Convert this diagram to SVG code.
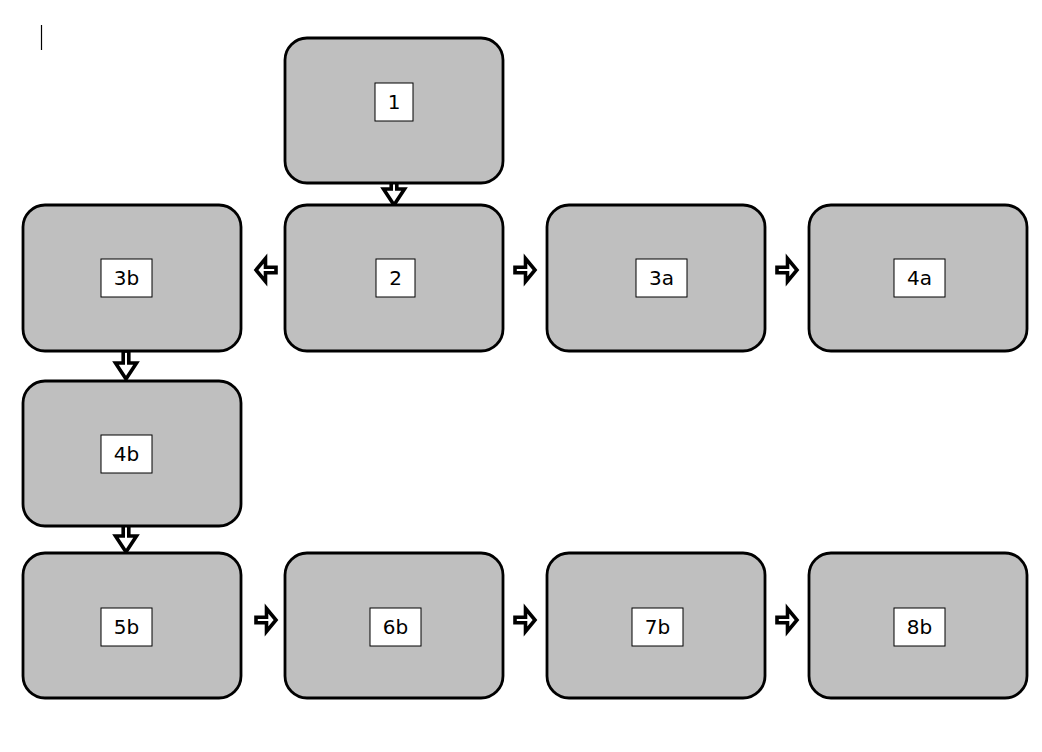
<svg xmlns="http://www.w3.org/2000/svg" width="1042" height="752" viewBox="0 0 1042 752">
<style>
.n{fill:#bfbfbf;stroke:#000;stroke-width:2.8}
.l{fill:#fff;stroke:#000;stroke-width:1}
.t{font-family:"DejaVu Sans","Liberation Sans",sans-serif;font-size:20px;fill:#000;text-anchor:middle;dominant-baseline:central}
.a{fill:#fff;stroke:#000;stroke-width:3.6;stroke-linejoin:miter;stroke-miterlimit:10}
</style>
<defs>
<path id="ar" class="a" d="M-10,-2.8 H0.5 V-11.5 L10,0 L0.5,11.5 V2.8 H-10 Z"/>
<path id="ad" class="a" d="M-2.8,-14 H2.8 V-2 H10.5 L0,14 L-10.5,-2 H-2.8 Z"/>
</defs>
<rect width="1042" height="752" fill="#fff"/>
<line x1="41.5" y1="25" x2="41.5" y2="50" stroke="#000" stroke-width="1.2"/>
<g id="connectors">
<use href="#ad" transform="translate(394,191)"/>
<use href="#ar" transform="translate(266,270) scale(-1,1)"/>
<use href="#ar" transform="translate(525,270)"/>
<use href="#ar" transform="translate(787,270)"/>
<use href="#ad" transform="translate(126,365)"/>
<use href="#ad" transform="translate(126,538)"/>
<use href="#ar" transform="translate(266,620)"/>
<use href="#ar" transform="translate(525,620)"/>
<use href="#ar" transform="translate(787,620)"/>
</g>
<g id="n1"><rect class="n" x="285" y="38" width="218" height="145" rx="22"/><rect class="l" x="375" y="83" width="38" height="38"/><text class="t" x="394" y="102">1</text></g>
<g id="n2"><rect class="n" x="285" y="205" width="218" height="146" rx="22"/><rect class="l" x="376" y="259" width="39" height="38"/><text class="t" x="395.5" y="278">2</text></g>
<g id="n3b"><rect class="n" x="23" y="205" width="218" height="146" rx="22"/><rect class="l" x="101" y="259" width="51" height="38"/><text class="t" x="126.5" y="278">3b</text></g>
<g id="n3a"><rect class="n" x="547" y="205" width="218" height="146" rx="22"/><rect class="l" x="636" y="259" width="51" height="38"/><text class="t" x="661.5" y="278">3a</text></g>
<g id="n4a"><rect class="n" x="809" y="205" width="218" height="146" rx="22"/><rect class="l" x="894" y="259" width="51" height="38"/><text class="t" x="919.5" y="278">4a</text></g>
<g id="n4b"><rect class="n" x="23" y="381" width="218" height="145" rx="22"/><rect class="l" x="101" y="435" width="51" height="38"/><text class="t" x="126.5" y="454">4b</text></g>
<g id="n5b"><rect class="n" x="23" y="553" width="218" height="145" rx="22"/><rect class="l" x="101" y="608" width="51" height="38"/><text class="t" x="126.5" y="627">5b</text></g>
<g id="n6b"><rect class="n" x="285" y="553" width="218" height="145" rx="22"/><rect class="l" x="370" y="608" width="51" height="38"/><text class="t" x="395.5" y="627">6b</text></g>
<g id="n7b"><rect class="n" x="547" y="553" width="218" height="145" rx="22"/><rect class="l" x="632" y="608" width="51" height="38"/><text class="t" x="657.5" y="627">7b</text></g>
<g id="n8b"><rect class="n" x="809" y="553" width="218" height="145" rx="22"/><rect class="l" x="894" y="608" width="51" height="38"/><text class="t" x="919.5" y="627">8b</text></g>
</svg>
